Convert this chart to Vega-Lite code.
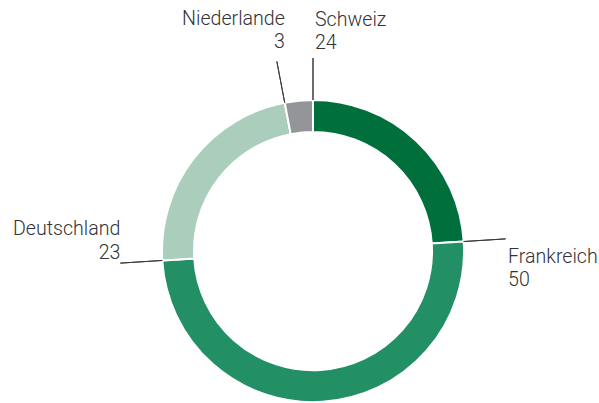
{
  "$schema": "https://vega.github.io/schema/vega-lite/v6.json",
  "width": 572,
  "height": 302,
  "autosize": "none",
  "padding": {"left": 27, "top": 100, "right": 0, "bottom": 1},
  "background": "white",
  "config": {"view": {"stroke": null}},
  "data": {
    "values": [
      {"land": "Schweiz", "value": 24, "order": 1},
      {"land": "Frankreich", "value": 50, "order": 2},
      {"land": "Deutschland", "value": 23, "order": 3},
      {"land": "Niederlande", "value": 3, "order": 4}
    ]
  },
  "transform": [
    {"stack": "value", "groupby": [], "sort": [{"field": "order", "order": "ascending"}], "as": ["start", "end"]},
    {"calculate": "datum.land + '\\n' + datum.value", "as": "label"}
  ],
  "layer": [
    {
      "mark": {"type": "arc", "innerRadius": 119, "outerRadius": 151, "stroke": "white", "strokeWidth": 2},
      "encoding": {
        "theta": {"field": "start", "type": "quantitative", "stack": null, "scale": {"domain": [0, 100], "range": [0, 6.283185307179586]}},
        "theta2": {"field": "end"},
        "color": {
          "field": "land", "type": "nominal", "legend": null,
          "scale": {"domain": ["Schweiz", "Frankreich", "Deutschland", "Niederlande"], "range": ["#006f3c", "#228f65", "#aacebb", "#949598"]}
        }
      }
    },
    {
      "mark": {"type": "arc", "innerRadius": 151, "outerRadius": 193, "stroke": "#3a3a3a", "strokeWidth": 1, "fillOpacity": 0},
      "encoding": {
        "theta": {"field": "start", "type": "quantitative", "stack": null, "scale": {"domain": [0, 100], "range": [0, 6.283185307179586]}},
        "theta2": {"field": "start"}
      }
    },
    {
      "transform": [{"filter": "datum.land == 'Schweiz'"}],
      "mark": {"type": "text", "align": "left", "baseline": "alphabetic", "dx": 2, "dy": -32.5, "font": "Roboto", "fontWeight": 300, "fontSize": 19.6, "lineHeight": 23, "lineBreak": "\n", "color": "#333333"},
      "encoding": {
        "theta": {"field": "start", "type": "quantitative", "stack": null, "scale": {"domain": [0, 100], "range": [0, 6.283185307179586]}},
        "radius": {"value": 193},
        "text": {"field": "label", "type": "nominal"}
      }
    },
    {
      "transform": [{"filter": "datum.land == 'Niederlande'"}],
      "mark": {"type": "text", "align": "right", "baseline": "alphabetic", "dx": 8, "dy": -36, "font": "Roboto", "fontWeight": 300, "fontSize": 19.6, "lineHeight": 23, "lineBreak": "\n", "color": "#333333"},
      "encoding": {
        "theta": {"field": "start", "type": "quantitative", "stack": null, "scale": {"domain": [0, 100], "range": [0, 6.283185307179586]}},
        "radius": {"value": 193},
        "text": {"field": "label", "type": "nominal"}
      }
    },
    {
      "transform": [{"filter": "datum.land == 'Frankreich'"}],
      "mark": {"type": "text", "align": "left", "baseline": "alphabetic", "dx": 2.4, "dy": 24.4, "font": "Roboto", "fontWeight": 300, "fontSize": 19.6, "lineHeight": 23, "lineBreak": "\n", "color": "#333333"},
      "encoding": {
        "theta": {"field": "start", "type": "quantitative", "stack": null, "scale": {"domain": [0, 100], "range": [0, 6.283185307179586]}},
        "radius": {"value": 193},
        "text": {"field": "label", "type": "nominal"}
      }
    },
    {
      "transform": [{"filter": "datum.land == 'Deutschland'"}],
      "mark": {"type": "text", "align": "right", "baseline": "alphabetic", "dx": 0, "dy": -28, "font": "Roboto", "fontWeight": 300, "fontSize": 19.6, "lineHeight": 24, "lineBreak": "\n", "color": "#333333"},
      "encoding": {
        "theta": {"field": "start", "type": "quantitative", "stack": null, "scale": {"domain": [0, 100], "range": [0, 6.283185307179586]}},
        "radius": {"value": 193},
        "text": {"field": "label", "type": "nominal"}
      }
    }
  ]
}
